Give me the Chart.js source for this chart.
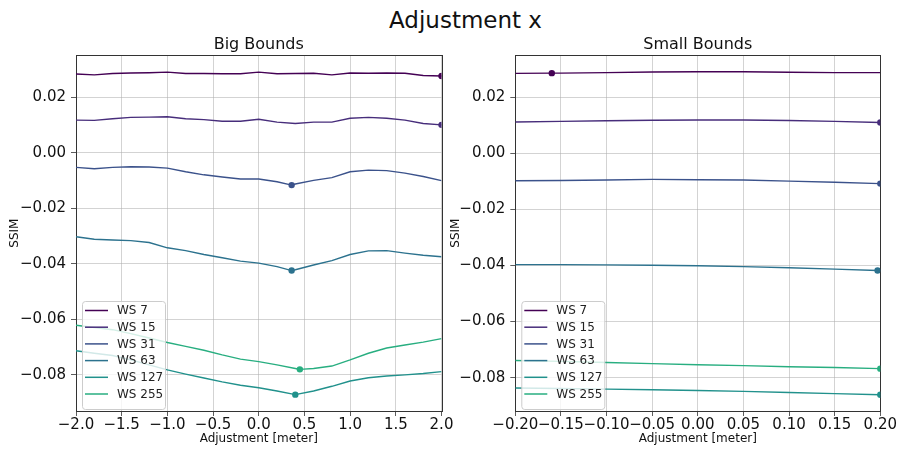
<!DOCTYPE html>
<html>
<head>
<meta charset="utf-8">
<script src="https://cdn.jsdelivr.net/npm/chart.js@4"></script>
<style>
  body { margin: 0; background: #fff; width: 898px; height: 451px; position: relative; overflow: hidden; font-family: "DejaVu Sans", sans-serif; }
  #sup { position: absolute; top: 7px; left: 0; width: 931px; text-align: center; font-size: 23px; color: #111; }
  canvas { position: absolute; top: 35px; }
</style>
</head>
<body>
<div id="sup">Adjustment x</div>
<canvas id="big" width="460" height="416" style="left:0"></canvas>
<canvas id="small" width="449" height="416" style="left:449px"></canvas>
<script>
const labels = ["WS 7", "WS 15", "WS 31", "WS 63", "WS 127", "WS 255"];
const colors = ["#440154", "#472d7b", "#3b528b", "#2c728e", "#21918c", "#28ae80"];
const yTicks = [-0.08, -0.06, -0.04, -0.02, 0, 0.02];

// big bounds, adjustment in meters
const bigX = [-2.0, -1.8, -1.6, -1.4, -1.2, -1.0, -0.8, -0.6, -0.4, -0.2, 0.0, 0.2, 0.4, 0.6, 0.8, 1.0, 1.2, 1.4, 1.6, 1.8, 2.0];
const bigXTicks = [-2, -1.5, -1, -0.5, 0, 0.5, 1, 1.5, 2];
const bigWS7 = [0.0284, 0.0281, 0.0286, 0.0288, 0.0289, 0.0291, 0.0286, 0.0286, 0.0285, 0.0285, 0.0291, 0.0285, 0.0286, 0.0287, 0.0281, 0.0288, 0.0287, 0.0288, 0.0287, 0.0279, 0.0277];
const bigWS15 = [0.0118, 0.0117, 0.0123, 0.0128, 0.0129, 0.0130, 0.0123, 0.0120, 0.0114, 0.0114, 0.0121, 0.0111, 0.0106, 0.0111, 0.0111, 0.0125, 0.0128, 0.0125, 0.0118, 0.0106, 0.0101];
const bigWS31 = [-0.0052, -0.0057, -0.0052, -0.0050, -0.0051, -0.0055, -0.0068, -0.0079, -0.0087, -0.0094, -0.0094, -0.0104, -0.0112, -0.0099, -0.0089, -0.0068, -0.0062, -0.0064, -0.0073, -0.0085, -0.0100];
const bigWS63 = [-0.0302, -0.0311, -0.0314, -0.0316, -0.0323, -0.0342, -0.0352, -0.0366, -0.0378, -0.0390, -0.0397, -0.0410, -0.0421, -0.0404, -0.0388, -0.0366, -0.0353, -0.0352, -0.0361, -0.0369, -0.0374];
const bigWS127 = [-0.0713, -0.0722, -0.0730, -0.0746, -0.0764, -0.0782, -0.0797, -0.0811, -0.0825, -0.0837, -0.0846, -0.0858, -0.0870, -0.0858, -0.0841, -0.0822, -0.0810, -0.0804, -0.0800, -0.0795, -0.0788];
const bigWS255 = [-0.0621, -0.0629, -0.0637, -0.0651, -0.0667, -0.0683, -0.0697, -0.0711, -0.0728, -0.0743, -0.0752, -0.0764, -0.0777, -0.0777, -0.0768, -0.0746, -0.0722, -0.0703, -0.0692, -0.0682, -0.0669];
const bigMarkX = [2.0, 2.0, 0.36, 0.36, 0.40, 0.45];
const bigMarkY = [0.0277, 0.0101, -0.0116, -0.0424, -0.0871, -0.0780];

// small bounds
const smallX = [-0.2, -0.15, -0.1, -0.05, 0, 0.05, 0.1, 0.15, 0.2];
const smallXTicks = [-0.2, -0.15, -0.1, -0.05, 0, 0.05, 0.1, 0.15, 0.2];
const smallWS7 = [0.0285, 0.0286, 0.0288, 0.0290, 0.0291, 0.0291, 0.0289, 0.0288, 0.0288];
const smallWS15 = [0.0112, 0.0114, 0.0116, 0.0118, 0.0119, 0.0119, 0.0117, 0.0114, 0.0110];
const smallWS31 = [-0.0098, -0.0097, -0.0095, -0.0093, -0.0094, -0.0095, -0.0099, -0.0103, -0.0108];
const smallWS63 = [-0.0397, -0.0397, -0.0398, -0.0399, -0.0401, -0.0404, -0.0408, -0.0413, -0.0418];
const smallWS127 = [-0.0837, -0.0839, -0.0841, -0.0843, -0.0846, -0.0849, -0.0853, -0.0857, -0.0861];
const smallWS255 = [-0.0739, -0.0742, -0.0746, -0.0750, -0.0754, -0.0757, -0.0761, -0.0764, -0.0768];
const smallMarkX = [-0.16, 0.2, 0.2, 0.197, 0.2, 0.2];
const smallMarkY = [0.0286, 0.0110, -0.0108, -0.0418, -0.0861, -0.0768];

const FONT = '"DejaVu Sans", sans-serif';
const fmt = (v, d) => v.toFixed(d).replace("-", "\u2212");

// merge the marker into the line so it sits on it
function withMarker(xs, ys, mx, my) {
  const pts = xs.map((x, i) => ({ x: x, y: ys[i] })).filter(p => Math.abs(p.x - mx) > 1e-9);
  pts.push({ x: mx, y: my, mark: true });
  pts.sort((a, b) => a.x - b.x);
  return pts;
}

const frame = {
  id: "frame",
  beforeDatasetsDraw(chart) {
    const { ctx, chartArea: a } = chart;
    ctx.save();
    ctx.strokeStyle = "#333";
    ctx.lineWidth = 1;
    ctx.strokeRect(Math.round(a.left) + 0.5, Math.round(a.top) + 0.5, Math.round(a.right - a.left), Math.round(a.bottom - a.top));
    ctx.restore();
  }
};

const boxLegend = {
  id: "boxLegend",
  afterDatasetsDraw(chart) {
    const { ctx, chartArea: a } = chart;
    const x0 = a.left + 6, y1 = a.bottom - 2, w = 83, h = 108, y0 = y1 - h;
    ctx.save();
    ctx.beginPath();
    if (ctx.roundRect) ctx.roundRect(x0 + 0.5, y0 + 0.5, w, h, 3); else ctx.rect(x0 + 0.5, y0 + 0.5, w, h);
    ctx.fillStyle = "rgba(255,255,255,0.8)";
    ctx.fill();
    ctx.strokeStyle = "#cccccc";
    ctx.lineWidth = 1;
    ctx.stroke();
    ctx.font = "12px " + FONT;
    ctx.textBaseline = "middle";
    chart.data.datasets.forEach((ds, i) => {
      const y = y0 + 9.5 + i * 16.7;
      ctx.strokeStyle = ds.borderColor;
      ctx.lineWidth = 1.5;
      ctx.beginPath();
      ctx.moveTo(x0 + 3, y);
      ctx.lineTo(x0 + 26, y);
      ctx.stroke();
      ctx.fillStyle = "#222";
      ctx.fillText(ds.label, x0 + 35, y + 0.5);
    });
    ctx.restore();
  }
};

function makeChart(id, title, xs, series, markX, markY, xTicks, xDec, yMin, yMax, yWidth, rightPad, ssimPad) {
  const datasets = series.map((ys, i) => ({
    label: labels[i],
    data: withMarker(xs, ys, markX[i], markY[i]),
    borderColor: colors[i],
    backgroundColor: colors[i],
    borderWidth: 1.4,
    pointRadius: ctx => (ctx.raw && ctx.raw.mark ? 3.2 : 0),
    pointBorderWidth: 0,
    tension: 0
  }));
  return new Chart(document.getElementById(id), {
    type: "line",
    data: { datasets: datasets },
    plugins: [frame, boxLegend],
    options: {
      responsive: false,
      animation: false,
      devicePixelRatio: 1,
      layout: { padding: { left: 0, right: rightPad, top: 0, bottom: 0 } },
      plugins: {
        legend: { display: false },
        tooltip: { enabled: false },
        title: {
          display: true, text: title, fullSize: false, color: "#111",
          font: { family: FONT, size: 16, weight: "normal" },
          padding: { top: 0, bottom: 1 }
        }
      },
      scales: {
        x: {
          type: "linear", min: xTicks[0], max: xTicks[xTicks.length - 1],
          afterBuildTicks: s => { s.ticks = xTicks.map(v => ({ value: v })); },
          afterFit: s => { s.height = 40; s.paddingLeft = 0; s.paddingRight = 0; },
          ticks: {
            autoSkip: false, maxRotation: 0, minRotation: 0, padding: 0,
            color: "#111", font: { family: FONT, size: 15 },
            callback: v => fmt(v, xDec)
          },
          grid: { color: "rgba(176,176,176,0.7)", lineWidth: 0.8, tickColor: "#333", tickLength: 5 },
          border: { display: false },
          title: { display: true, text: "Adjustment [meter]", color: "#111", font: { family: FONT, size: 12 }, padding: { top: 0, bottom: 5 } }
        },
        y: {
          type: "linear", min: yMin, max: yMax,
          afterBuildTicks: s => { s.ticks = yTicks.map(v => ({ value: v })); },
          afterFit: s => { s.width = yWidth; s.paddingTop = 0; s.paddingBottom = 0; },
          ticks: {
            padding: 5, color: "#111", font: { family: FONT, size: 15 },
            callback: v => fmt(v, 2)
          },
          grid: { color: "rgba(176,176,176,0.7)", lineWidth: 0.8, tickColor: "#333", tickLength: 5 },
          border: { display: false },
          title: { display: true, text: "SSIM", color: "#111", font: { family: FONT, size: 12 }, padding: { top: ssimPad, bottom: 0 } }
        }
      }
    }
  });
}

makeChart("big", "Big Bounds", bigX,
  [bigWS7, bigWS15, bigWS31, bigWS63, bigWS127, bigWS255],
  bigMarkX, bigMarkY, bigXTicks, 1, -0.0930, 0.0352, 76, 18.5, 8);

makeChart("small", "Small Bounds", smallX,
  [smallWS7, smallWS15, smallWS31, smallWS63, smallWS127, smallWS255],
  smallMarkX, smallMarkY, smallXTicks, 2, -0.0919, 0.0350, 66.3, 17.7, 0);
</script>
</body>
</html>
